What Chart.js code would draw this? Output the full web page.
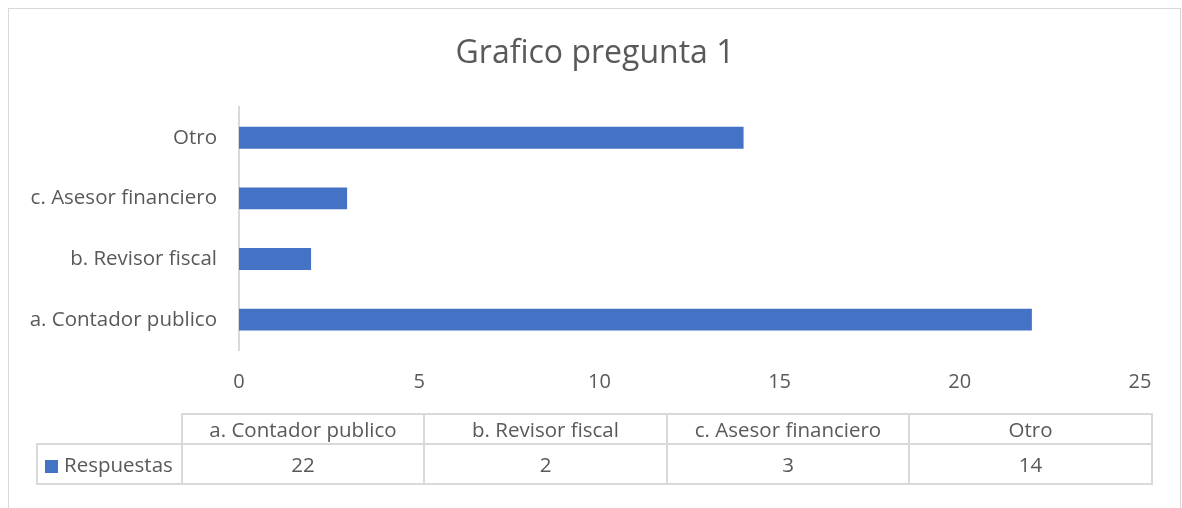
<!DOCTYPE html>
<html>
<head>
<meta charset="utf-8">
<script src="https://cdn.jsdelivr.net/npm/chart.js@4.4.1/dist/chart.umd.min.js"></script>
<style>
  html, body { margin: 0; padding: 0; background: #fff; }
  #wrap { position: relative; width: 1182px; height: 508px; overflow: hidden; font-family: "Open Sans", sans-serif; }
  #frame { position: absolute; left: 8px; top: 8px; width: 1173px; height: 520px; border: 1px solid #d9d9d9; box-sizing: border-box; }
  canvas { position: absolute; left: 0; top: 0; }
  .cell { position: absolute; box-sizing: border-box; border: 2px solid #d9d9d9; color: #595959;
          font-size: 20.5px; text-align: center; white-space: nowrap; }
  .sw { display: inline-block; width: 13px; height: 13px; background: #4472C4; margin-right: 6px; vertical-align: -1px; }
</style>
</head>
<body>
<div id="wrap">
  <div id="frame"></div>
  <canvas id="c" width="1182" height="508"></canvas>
  <div id="tbl"></div>
</div>
<script>
const titleText = "Grafico pregunta 1";
const seriesName = "Respuestas";
const categories = ["a. Contador publico", "b. Revisor fiscal", "c. Asesor financiero", "Otro"];
const values = [22, 2, 3, 14];
const xMin = 0, xMax = 25, xStep = 5;

const barColor = "#4472C4";
const textColor = "#595959";
const font = "'Open Sans', sans-serif";

// centre the title over the whole chart box (as in the reference), not just left of the right padding
const titleCenterPlugin = {
  id: "titleCenter",
  afterLayout(chart) {
    const t = chart.titleBlock;
    if (t) { t.left = 50; t.right = 1140; }
  }
};

new Chart(document.getElementById("c"), {
  type: "bar",
  data: {
    labels: categories,
    datasets: [{ label: seriesName, data: values, backgroundColor: barColor, borderWidth: 0,
                 barPercentage: 0.36, categoryPercentage: 1 }]
  },
  options: {
    indexAxis: "y",
    responsive: false,
    animation: false,
    layout: { padding: { left: 0, right: 42, top: 0, bottom: 0 } },
    plugins: {
      legend: { display: false },
      tooltip: { enabled: false },
      title: { display: true, text: titleText, color: textColor,
               font: { family: font, size: 32, weight: "normal", lineHeight: 1.2 },
               padding: { top: 35, bottom: 34 } }
    },
    scales: {
      x: {
        min: xMin, max: xMax,
        ticks: { stepSize: xStep, color: textColor, font: { family: font, size: 20 }, padding: 20 },
        grid: { display: false, drawTicks: false },
        border: { display: false },
        afterFit: (s) => { s.height = 158; }
      },
      y: {
        reverse: true,
        ticks: { color: textColor, font: { family: font, size: 20.5 }, padding: 22 },
        grid: { display: false, drawTicks: false },
        border: { display: true, color: "#d9d9d9", width: 2 },
        afterFit: (s) => { s.width = 239; }
      }
    }
  },
  plugins: [titleCenterPlugin]
});

// data table built from the same arrays
const tbl = document.getElementById("tbl");
const colEdges = [182, 424, 667, 909, 1152];
const legendLeft = 37;
const rowTop = [414, 444, 484];
function cell(x0, x1, y0, y1, content, extra) {
  const d = document.createElement("div");
  d.className = "cell";
  d.style.left = (x0 - 1) + "px";
  d.style.top = (y0 - 1) + "px";
  d.style.width = (x1 - x0 + 2) + "px";
  d.style.height = (y1 - y0 + 2) + "px";
  d.style.lineHeight = (y1 - y0 - 2) + "px";
  if (extra) Object.assign(d.style, extra);
  d.innerHTML = content;
  tbl.appendChild(d);
}
categories.forEach((c, i) => cell(colEdges[i], colEdges[i + 1], rowTop[0], rowTop[1], c));
cell(legendLeft, colEdges[0], rowTop[1], rowTop[2], '<span class="sw"></span>' + seriesName,
     { textAlign: "left", paddingLeft: "7px" });
values.forEach((v, i) => cell(colEdges[i], colEdges[i + 1], rowTop[1], rowTop[2], String(v)));
</script>
</body>
</html>
